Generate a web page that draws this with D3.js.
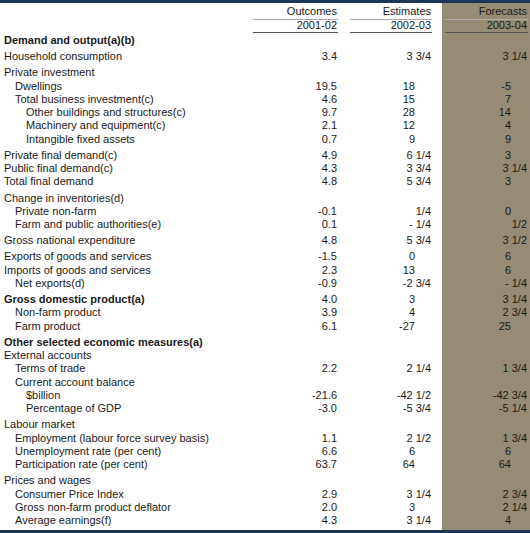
<!DOCTYPE html><html><head><meta charset="utf-8"><script src="https://cdn.jsdelivr.net/npm/d3@7"></script>
<style>body{margin:0;background:#fff}text{font-family:"Liberation Sans",Arial,sans-serif;font-size:11px;fill:#1a1a1a}</style></head><body><svg id="c" width="530" height="533"></svg>
<script>
const columns=["Outcomes","Estimates","Forecasts"];
const years=["2001-02","2002-03","2003-04"];
const labels=["Demand and output(a)(b)","Household consumption","Private investment","Dwellings","Total business investment(c)","Other buildings and structures(c)","Machinery and equipment(c)","Intangible fixed assets","Private final demand(c)","Public final demand(c)","Total final demand","Change in inventories(d)","Private non-farm","Farm and public authorities(e)","Gross national expenditure","Exports of goods and services","Imports of goods and services","Net exports(d)","Gross domestic product(a)","Non-farm product","Farm product","Other selected economic measures(a)","External accounts","Terms of trade","Current account balance","$billion","Percentage of GDP","Labour market","Employment (labour force survey basis)","Unemployment rate (per cent)","Participation rate (per cent)","Prices and wages","Consumer Price Index","Gross non-farm product deflator","Average earnings(f)"];
const indent=[0,0,0,1,1,2,2,2,0,0,0,0,1,1,0,0,0,1,0,1,1,0,0,1,1,2,2,0,1,1,1,0,1,1,1];
const bold=[0,18,21];
const groupStart=[1,2,8,11,14,15,18,21,27,31];
const outcomes=["","3.4","","19.5","4.6","9.7","2.1","0.7","4.9","4.3","4.8","","-0.1","0.1","4.8","-1.5","2.3","-0.9","4.0","3.9","6.1","","","2.2","","-21.6","-3.0","","1.1","6.6","63.7","","2.9","2.0","4.3"];
const estimates=["","3 3/4","","18","15","28","12","9","6 1/4","3 3/4","5 3/4","","1/4","- 1/4","5 3/4","0","13","-2 3/4","3","4","-27","","","2 1/4","","-42 1/2","-5 3/4","","2 1/2","6","64","","3 1/4","3","3 1/4"];
const forecasts=["","3 1/4","","-5","7","14","4","9","3","3 1/4","3","","0","1/2","3 1/2","6","6","- 1/4","3 1/4","2 3/4","25","","","1 3/4","","-42 3/4","-5 1/4","","1 3/4","6","64","","2 3/4","2 1/4","4"];
const svg=d3.select("#c");
const W=530;
const colEnd={Outcomes:337,Estimates:431,Forecasts:527};
const colStart={Outcomes:253,Estimates:350,Forecasts:445};
svg.append("rect").attr("x",442).attr("y",3).attr("width",88).attr("height",527).attr("fill","#968b74");
svg.append("rect").attr("x",0).attr("y",0).attr("width",W).attr("height",3).attr("fill","#1d3557");
svg.append("rect").attr("x",0).attr("y",530).attr("width",W).attr("height",3).attr("fill","#1d3557");
columns.forEach((c,i)=>{
 svg.append("text").attr("x",colEnd[c]).attr("y",15).attr("text-anchor","end").text(c);
 svg.append("text").attr("x",colEnd[c]).attr("y",29).attr("text-anchor","end").text(years[i]);
 svg.append("line").attr("x1",colStart[c]).attr("x2",colEnd[c]+1).attr("y1",19.5).attr("y2",19.5).attr("stroke","#aaa").attr("stroke-width",1);
 svg.append("line").attr("x1",colStart[c]).attr("x2",colEnd[c]+1).attr("y1",32.5).attr("y2",32.5).attr("stroke","#555").attr("stroke-width",1);
});
let g=0;const ys=labels.map((l,i)=>{if(groupStart.includes(i))g++;return 44+13.3*i+2.8*g;});
labels.forEach((l,i)=>{
 svg.append("text").attr("x",4+indent[i]*11).attr("y",ys[i]).attr("font-weight",bold.includes(i)?"bold":null).text(l);
});
const series={Outcomes:outcomes,Estimates:estimates,Forecasts:forecasts};
columns.forEach(c=>{
 series[c].forEach((v,i)=>{
  if(!v)return;
  const hasFrac=v.includes("/");
  const xe=c==="Outcomes"?colEnd[c]:(hasFrac?colEnd[c]:colEnd[c]-16);
  svg.append("text").attr("x",xe).attr("y",ys[i]).attr("text-anchor","end").text(v);
 });
});
</script></body></html>
